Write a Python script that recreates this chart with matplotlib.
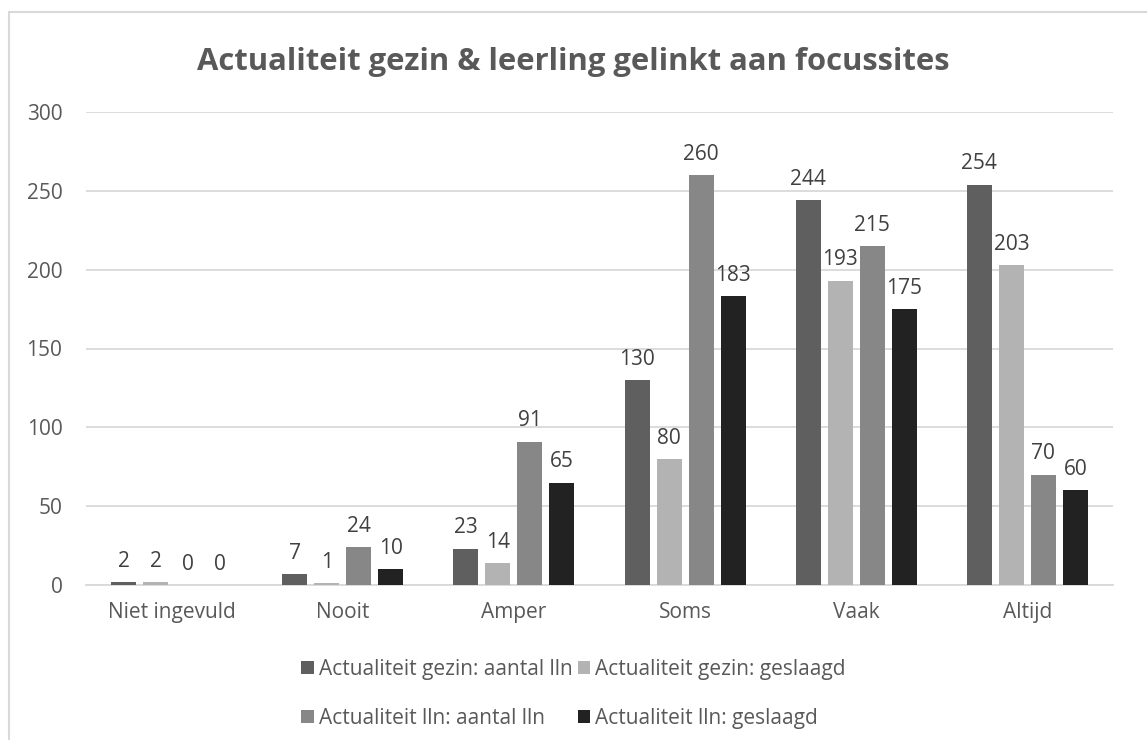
import numpy as np
from matplotlib import pyplot as plt
from matplotlib.patches import Rectangle

plt.rcParams['font.family'] = ['Open Sans', 'DejaVu Sans']

categories = ['Niet ingevuld', 'Nooit', 'Amper', 'Soms', 'Vaak', 'Altijd']
series_names = ['Actualiteit gezin: aantal lln', 'Actualiteit gezin: geslaagd',
                'Actualiteit lln: aantal lln', 'Actualiteit lln: geslaagd']
gezin_aantal = [2, 7, 23, 130, 244, 254]
gezin_geslaagd = [2, 1, 14, 80, 193, 203]
lln_aantal = [0, 24, 91, 260, 215, 70]
lln_geslaagd = [0, 10, 65, 183, 175, 60]
series = [gezin_aantal, gezin_geslaagd, lln_aantal, lln_geslaagd]
colors = ['#5f5f5f', '#b3b3b3', '#878787', '#222222']

txt = '#595959'
fig = plt.figure(figsize=(11.47, 7.4), dpi=100)
fig.patches.append(Rectangle((9 / 1147, -0.1), 1.2, (740 - 12) / 740 + 0.1,
                             transform=fig.transFigure, fill=False,
                             edgecolor='#d9d9d9', linewidth=1.5))
ax = fig.add_axes([86 / 1147, (740 - 585) / 740, (1113 - 86) / 1147, (585 - 112) / 740])

x = np.arange(len(categories))
w = 0.146
pitch = 0.187
handles = []
for i, (vals, c, name) in enumerate(zip(series, colors, series_names)):
    pos = x + (i - 1.5) * pitch
    bars = ax.bar(pos, vals, width=w, color=c, label=name, zorder=3)
    handles.append(bars)
    for p, v in zip(pos, vals):
        ax.text(p, v + 6.5, str(v), ha='center', va='bottom', fontsize=15, color='#404040')

ax.set_xlim(-0.5, len(categories) - 0.5)
ax.set_ylim(0, 300)
ax.set_yticks(range(0, 301, 50))
ax.set_xticks(x)
ax.set_xticklabels(categories)
ax.tick_params(axis='both', length=0, labelsize=15, colors=txt)
ax.tick_params(axis='x', pad=12)
ax.tick_params(axis='y', pad=17)
ax.grid(axis='y', color='#d9d9d9', linewidth=1.3, zorder=0)
for s in ['top', 'right', 'left']:
    ax.spines[s].set_visible(False)
ax.spines['bottom'].set_color('#d9d9d9')
ax.spines['bottom'].set_linewidth(1.3)

fig.text(0.5, (740 - 62) / 740, 'Actualiteit gezin & leerling gelinkt aan focussites',
         ha='center', va='center', fontsize=22.3, fontweight='bold', color=txt)

order = [0, 2, 1, 3]
fig.legend([handles[k] for k in order], [series_names[k] for k in order],
           loc='center', bbox_to_anchor=(0.5, (740 - 694) / 740), ncol=2, frameon=False,
           fontsize=15, labelcolor=txt, handlelength=0.6, handleheight=0.6,
           handletextpad=0.25, columnspacing=0.25, labelspacing=1.35)

plt.savefig('out.png', dpi=100)
